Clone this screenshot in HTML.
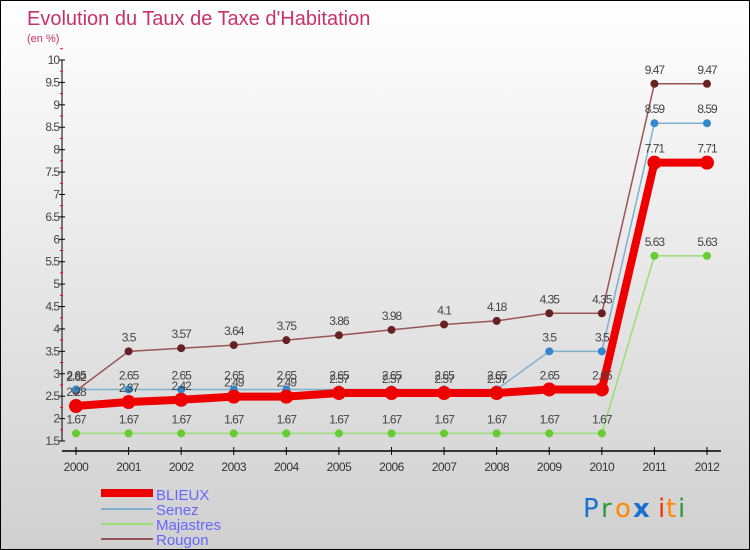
<!DOCTYPE html>
<html><head><meta charset="utf-8"><style>
body{margin:0;}
#wrap{position:relative;width:748px;height:548px;border:1px solid #000;background:linear-gradient(#ffffff,#d0d0d0);font-family:"Liberation Sans",sans-serif;overflow:hidden}
</style></head><body>
<div id="wrap">
<svg id="chart" width="748" height="548">
<text x="26" y="24" font-size="20" fill="#c8326a">Evolution du Taux de Taxe d'Habitation</text>
<text x="26" y="41" font-size="11" fill="#c8326a">(en %)</text>
<g id="axes"></g><g id="series"></g>
<g>
<rect x="100" y="488" width="52" height="8" fill="#e00"/>
<text x="155" y="499" font-size="15" fill="#6666ff">BLIEUX</text>
<rect x="100" y="507" width="52" height="2" fill="#7fb0d0"/>
<text x="155" y="514" font-size="15" fill="#6666ff">Senez</text>
<rect x="100" y="522" width="52" height="2" fill="#99dd77"/>
<text x="155" y="529" font-size="15" fill="#6666ff">Majastres</text>
<rect x="100" y="537" width="52" height="2" fill="#995555"/>
<text x="155" y="544" font-size="15" fill="#6666ff">Rougon</text>
</g>
<g font-size="26" font-family="'DejaVu Sans',sans-serif">
<text x="582" y="516" fill="#1a6fd0">P</text><text x="600" y="516" fill="#2a9a3a">r</text><text x="614" y="516" fill="#ff8800">o</text><text x="632" y="516" fill="#1a6fd0" font-weight="bold">x</text><text x="657" y="516" fill="#ee3300">i</text><text x="665" y="516" fill="#ff8800">t</text><text x="677" y="516" fill="#2a9a3a">i</text>
</g>
</svg></div>
<script>
const years=[2000,2001,2002,2003,2004,2005,2006,2007,2008,2009,2010,2011,2012];
const blieux=[2.28,2.37,2.42,2.49,2.49,2.57,2.57,2.57,2.57,2.65,2.65,7.71,7.71];
const senez=[2.65,2.65,2.65,2.65,2.65,2.65,2.65,2.65,2.65,3.5,3.5,8.59,8.59];
const majastres=[1.67,1.67,1.67,1.67,1.67,1.67,1.67,1.67,1.67,1.67,1.67,5.63,5.63];
const rougon=[2.62,3.5,3.57,3.64,3.75,3.86,3.98,4.1,4.18,4.35,4.35,9.47,9.47];
const yTicks=[1.5,2,2.5,3,3.5,4,4.5,5,5.5,6,6.5,7,7.5,8,8.5,9,9.5,10];
const NS="http://www.w3.org/2000/svg";
const x=i=>75+(i)*(706-75)/(years.length-1);
const y=v=>440-(v-1.5)*(440-59)/8.5;
function mk(t,a,p){const e=document.createElementNS(NS,t);for(const k in a)e.setAttribute(k,a[k]);p.appendChild(e);return e;}
const ax=document.getElementById('axes');
const yl=mk('line',{x1:61,y1:59,x2:61,y2:440,stroke:'#000'},ax);


yTicks.forEach(v=>{
 mk('line',{x1:58,x2:64,y1:y(v),y2:y(v),stroke:'#000'},ax);
 mk('line',{x1:59,x2:62,y1:y(v+0.25),y2:y(v+0.25),stroke:'#f00'},ax);
 const t=mk('text',{x:58,y:y(v)+4,'font-size':12,'text-anchor':'end',fill:'#444','letter-spacing':'-1'},ax);
 t.textContent=v;
 
 
});
const xl=mk('line',{x1:61,y1:450,x2:720,y2:450,stroke:'#000','stroke-width':1.5},ax);


years.forEach((yr,i)=>{
 mk('line',{x1:x(i),x2:x(i),y1:446,y2:454,stroke:'#000'},ax);
 const t=mk('text',{x:x(i),y:470,'font-size':12,'text-anchor':'middle',fill:'#333','letter-spacing':'-0.5'},ax);
 t.textContent=yr;
 
 
});
const sg=document.getElementById('series');
function draw(name,vals,col,dot,w,r){
 const g=mk('g',{},sg);
 
 
 const pl=mk('polyline',{points:vals.map((v,i)=>x(i)+','+y(v)).join(' '),fill:'none',stroke:col,'stroke-width':w},g);
 
 
 vals.forEach((v,i)=>{
  const c=mk('circle',{cx:x(i),cy:y(v),r:r,fill:dot},g);
  
  
  const t=mk('text',{x:x(i),y:y(v)-10,'font-size':12,'text-anchor':'middle',fill:'#444','letter-spacing':'-1'},g);
  t.textContent=v;
  
  
 });
}
draw('majastres',majastres,'#99dd77','#66cc33',1.5,4);
draw('rougon',rougon,'#995555','#662222',1.5,4);
draw('senez',senez,'#7fb0d0','#3388cc',1.5,4);
draw('blieux',blieux,'#e00','#e00',8,7);
</script>
</body></html>
